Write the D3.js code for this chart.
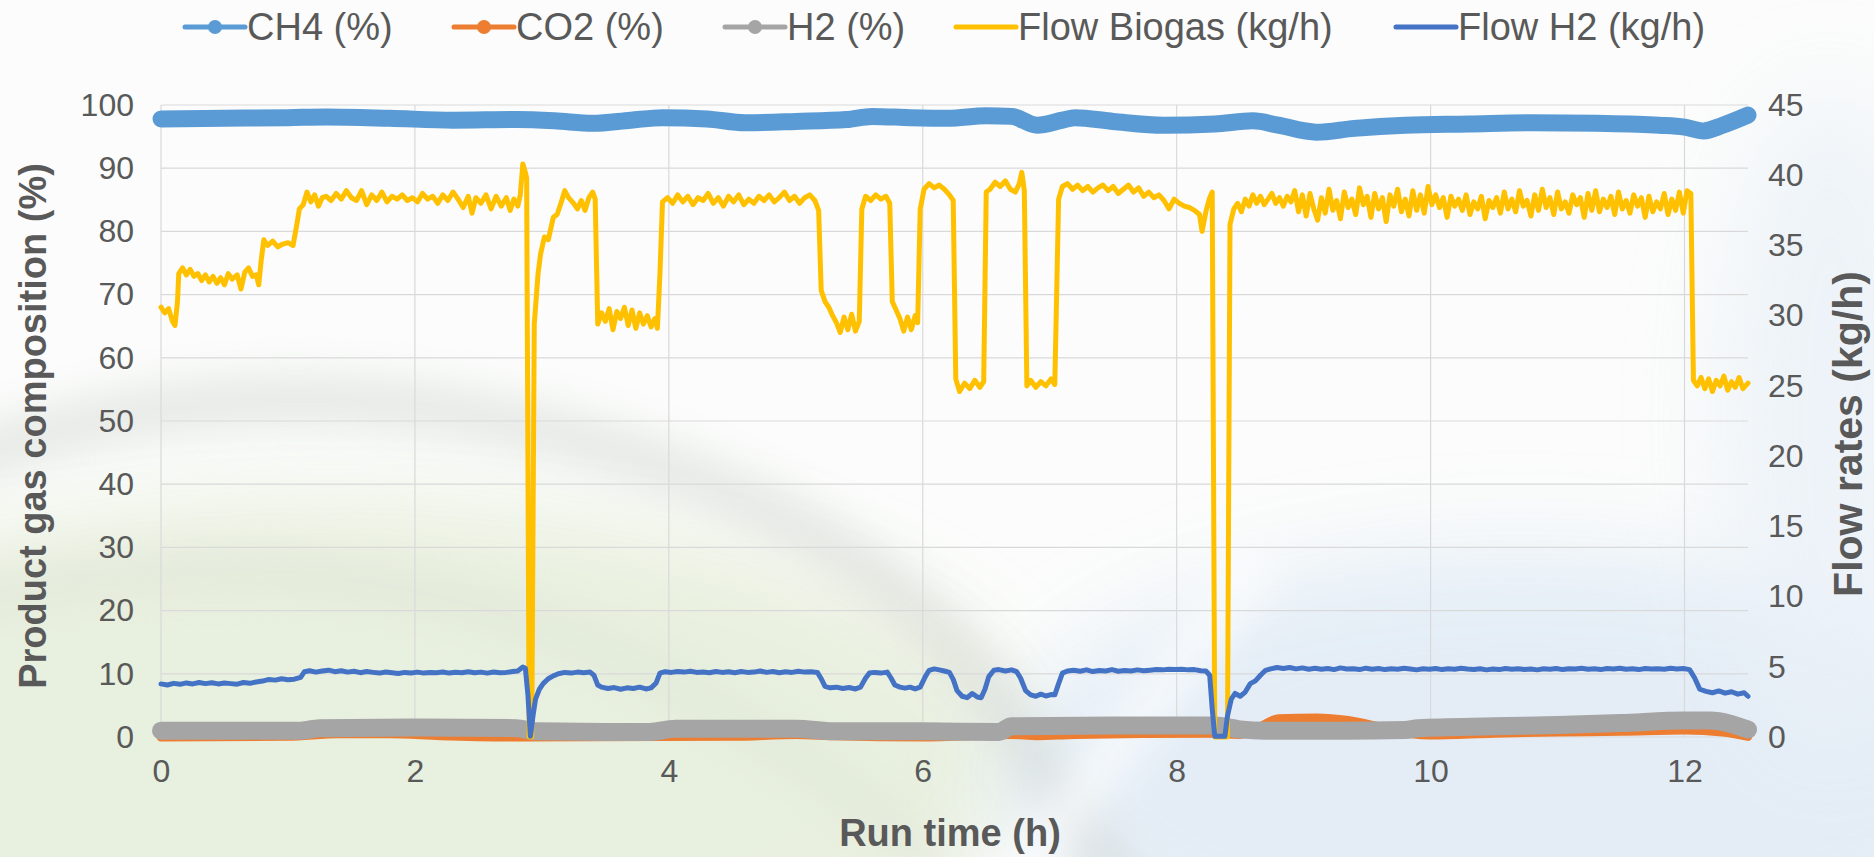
<!DOCTYPE html>
<html>
<head>
<meta charset="utf-8">
<script src="https://cdn.jsdelivr.net/npm/d3@7/dist/d3.min.js"></script>
<style>
  html, body { margin: 0; padding: 0; background: #ffffff; }
  svg { display: block; font-family: "Liberation Sans", Arial, sans-serif; }
</style>
</head>
<body>
<svg id="chart" width="1874" height="857"></svg>
<script>
// Run time axis ticks (h) and the two value-axis tick sets
const timeTicks = [0, 2, 4, 6, 8, 10, 12];
const pctTicks = [0, 10, 20, 30, 40, 50, 60, 70, 80, 90, 100];
const flowTicks = [0, 5, 10, 15, 20, 25, 30, 35, 40, 45];

// Product gas composition, [run time h, %]
const ch4 = [
  [0.0, 97.8], [0.5, 97.9], [1.0, 98.0], [1.3, 98.1], [1.8, 97.9], [2.3, 97.6],
  [2.8, 97.7], [3.1, 97.5], [3.4, 97.1], [3.7, 97.6], [3.95, 98.0], [4.3, 97.8],
  [4.6, 97.2], [5.0, 97.4], [5.4, 97.7], [5.6, 98.2], [5.9, 98.0], [6.2, 97.9],
  [6.5, 98.3], [6.7, 98.2], [6.9, 96.8], [7.1, 97.6], [7.2, 98.0], [7.5, 97.4],
  [7.9, 96.8], [8.3, 97.0], [8.6, 97.5], [8.8, 96.8], [9.1, 95.7], [9.4, 96.3],
  [9.8, 96.8], [10.3, 97.0], [10.8, 97.2], [11.3, 97.1], [11.8, 96.8], [12.0, 96.5],
  [12.15, 95.9], [12.3, 96.8], [12.5, 98.4]
];
const co2 = [
  [0.0, 0.0], [1.0, 0.1], [1.4, 0.5], [1.8, 0.5], [2.2, 0.2], [2.8, 0.0], [4.5, 0.1],
  [5.0, 0.4], [5.3, 0.2], [6.0, 0.0], [6.7, 0.4], [6.9, 0.2], [7.2, 0.4], [8.25, 0.6],
  [8.5, 0.4], [8.65, 1.5], [8.8, 2.9], [9.1, 3.0], [9.35, 2.6], [9.6, 1.6], [9.85, 0.5],
  [10.0, 0.3], [10.5, 0.6], [11.0, 0.8], [11.5, 0.9], [12.0, 1.1], [12.3, 0.8], [12.5, 0.1]
];
const h2 = [
  [0.0, 1.0], [0.5, 1.0], [1.1, 1.0], [1.25, 1.4], [2.0, 1.5], [2.8, 1.4], [2.95, 0.9],
  [3.5, 0.8], [3.85, 0.8], [4.05, 1.3], [5.0, 1.3], [5.3, 0.9], [6.0, 0.9], [6.6, 0.8],
  [6.7, 1.7], [7.5, 1.8], [8.3, 1.8], [8.5, 1.2], [8.7, 1.0], [9.3, 1.0], [9.8, 1.1],
  [9.9, 1.4], [10.5, 1.7], [11.0, 1.9], [11.5, 2.2], [12.0, 2.6], [12.2, 2.6], [12.5, 1.2]
];

// Flow rates, [run time h, kg/h]
const flowBiogas = [
  [0.00, 30.6], [0.03, 30.2], [0.06, 30.5], [0.09, 29.6], [0.11, 29.3], [0.13, 31.0],
  [0.14, 33.0], [0.17, 33.4], [0.20, 32.9], [0.23, 33.3], [0.26, 32.8], [0.29, 33.0],
  [0.32, 32.5], [0.35, 32.9], [0.38, 32.4], [0.41, 32.8], [0.44, 32.3], [0.47, 32.7],
  [0.50, 32.2], [0.53, 33.0], [0.56, 32.6], [0.60, 32.9], [0.63, 31.9], [0.66, 33.1],
  [0.69, 33.4], [0.72, 32.8], [0.75, 32.9], [0.77, 32.2], [0.79, 34.0], [0.81, 35.4],
  [0.84, 35.0], [0.88, 35.3], [0.92, 34.9], [0.96, 35.1], [1.00, 35.2], [1.04, 35.0],
  [1.07, 36.5], [1.09, 37.6], [1.12, 37.9], [1.15, 38.8], [1.18, 38.1], [1.21, 38.6],
  [1.24, 37.8], [1.27, 38.4], [1.30, 38.5], [1.34, 38.2], [1.38, 38.7], [1.42, 38.3],
  [1.46, 38.9], [1.50, 38.4], [1.54, 38.2], [1.58, 38.9], [1.62, 37.9], [1.66, 38.6],
  [1.70, 38.2], [1.74, 38.8], [1.78, 38.1], [1.82, 38.5], [1.86, 38.3], [1.90, 38.6],
  [1.94, 38.2], [1.98, 38.4], [2.02, 38.1], [2.06, 38.7], [2.10, 38.3], [2.14, 38.5],
  [2.18, 38.0], [2.22, 38.6], [2.26, 38.2], [2.30, 38.8], [2.34, 38.3], [2.38, 37.7],
  [2.42, 38.5], [2.45, 37.3], [2.48, 38.4], [2.52, 38.0], [2.56, 38.6], [2.60, 37.6],
  [2.64, 38.5], [2.68, 37.8], [2.72, 38.4], [2.75, 37.5], [2.78, 38.3], [2.81, 37.8],
  [2.83, 38.6], [2.85, 40.8], [2.87, 40.2], [2.88, 39.8], [2.90, 0.0], [2.92, 0.0],
  [2.94, 29.4], [2.97, 33.0], [2.99, 34.4], [3.02, 35.6], [3.05, 35.4], [3.09, 37.0],
  [3.12, 37.2], [3.15, 38.0], [3.18, 38.9], [3.21, 38.4], [3.25, 38.0], [3.28, 37.6],
  [3.31, 38.2], [3.34, 37.5], [3.37, 38.4], [3.40, 38.8], [3.42, 38.3], [3.44, 29.4],
  [3.47, 30.2], [3.50, 29.6], [3.53, 30.5], [3.56, 29.0], [3.59, 30.3], [3.62, 29.8],
  [3.65, 30.6], [3.68, 29.3], [3.71, 30.4], [3.74, 29.1], [3.77, 30.2], [3.80, 29.4],
  [3.83, 30.0], [3.86, 29.2], [3.89, 29.8], [3.91, 29.1], [3.93, 33.0], [3.95, 38.1],
  [3.99, 38.4], [4.03, 38.0], [4.07, 38.6], [4.11, 38.1], [4.15, 38.5], [4.19, 37.9],
  [4.23, 38.4], [4.27, 38.2], [4.31, 38.7], [4.35, 38.0], [4.39, 38.4], [4.43, 37.8],
  [4.47, 38.5], [4.51, 38.1], [4.55, 38.6], [4.59, 37.9], [4.63, 38.3], [4.67, 38.0],
  [4.71, 38.5], [4.75, 38.2], [4.79, 38.6], [4.83, 38.1], [4.87, 38.4], [4.91, 38.8],
  [4.95, 38.2], [4.99, 38.5], [5.03, 38.0], [5.07, 38.4], [5.11, 38.6], [5.15, 38.2],
  [5.18, 37.5], [5.20, 31.8], [5.23, 31.0], [5.26, 30.6], [5.29, 30.0], [5.32, 29.5],
  [5.35, 28.8], [5.38, 29.9], [5.41, 29.0], [5.44, 30.1], [5.47, 28.9], [5.50, 29.6],
  [5.52, 37.6], [5.55, 38.5], [5.59, 38.2], [5.63, 38.6], [5.67, 38.3], [5.71, 38.5],
  [5.74, 38.0], [5.76, 31.0], [5.79, 30.4], [5.82, 29.8], [5.85, 28.9], [5.88, 29.9],
  [5.91, 29.0], [5.94, 30.0], [5.96, 29.5], [5.98, 37.6], [6.01, 39.0], [6.05, 39.4],
  [6.09, 39.1], [6.13, 39.3], [6.17, 39.0], [6.21, 38.6], [6.24, 38.2], [6.26, 25.5],
  [6.29, 24.6], [6.33, 25.2], [6.37, 24.8], [6.41, 25.4], [6.45, 24.9], [6.48, 25.3],
  [6.50, 38.8], [6.53, 39.0], [6.57, 39.5], [6.61, 39.2], [6.65, 39.6], [6.69, 39.0],
  [6.73, 38.8], [6.76, 39.4], [6.78, 40.2], [6.80, 38.9], [6.82, 25.0], [6.85, 25.4],
  [6.89, 24.9], [6.93, 25.3], [6.97, 25.0], [7.01, 25.5], [7.04, 25.1], [7.07, 38.3],
  [7.10, 39.2], [7.14, 39.4], [7.18, 39.0], [7.22, 39.3], [7.26, 38.9], [7.30, 39.2],
  [7.34, 38.8], [7.38, 39.1], [7.42, 39.3], [7.46, 38.9], [7.50, 39.2], [7.54, 38.7],
  [7.58, 39.0], [7.62, 39.3], [7.66, 38.8], [7.70, 39.1], [7.74, 38.5], [7.78, 38.8],
  [7.82, 38.4], [7.86, 38.6], [7.90, 38.2], [7.94, 37.6], [7.98, 38.3], [8.02, 38.0],
  [8.06, 37.8], [8.10, 37.7], [8.14, 37.5], [8.18, 37.2], [8.20, 36.0], [8.23, 37.4],
  [8.26, 38.4], [8.28, 38.8], [8.30, 0.0], [8.40, 0.0], [8.42, 36.5], [8.45, 37.6],
  [8.48, 38.0], [8.51, 37.4], [8.54, 38.3], [8.57, 37.8], [8.60, 38.6], [8.63, 38.0],
  [8.66, 38.5], [8.69, 37.9], [8.72, 38.3], [8.75, 38.7], [8.78, 38.0], [8.81, 38.4],
  [8.84, 37.8], [8.87, 38.5], [8.90, 38.1], [8.93, 38.9], [8.96, 37.4], [8.99, 38.6],
  [9.02, 37.1], [9.05, 38.7], [9.08, 37.6], [9.11, 36.8], [9.14, 38.4], [9.17, 37.3],
  [9.20, 39.0], [9.23, 37.5], [9.26, 38.2], [9.29, 36.9], [9.32, 38.8], [9.35, 37.7],
  [9.38, 38.3], [9.41, 37.2], [9.44, 39.1], [9.47, 37.9], [9.50, 38.5], [9.53, 37.0],
  [9.56, 38.7], [9.59, 37.6], [9.62, 38.4], [9.65, 36.7], [9.68, 38.6], [9.71, 37.8],
  [9.74, 39.0], [9.77, 37.4], [9.80, 38.3], [9.83, 37.1], [9.86, 38.9], [9.89, 37.5],
  [9.92, 38.6], [9.95, 37.3], [9.98, 39.2], [10.01, 37.9], [10.04, 38.6], [10.07, 37.7],
  [10.10, 38.4], [10.13, 37.0], [10.16, 38.5], [10.19, 37.8], [10.22, 38.3], [10.25, 37.5],
  [10.28, 38.6], [10.31, 37.2], [10.34, 38.1], [10.37, 37.6], [10.40, 38.5], [10.43, 36.9],
  [10.46, 38.2], [10.49, 37.7], [10.52, 38.4], [10.55, 37.3], [10.58, 38.8], [10.61, 37.6],
  [10.64, 38.3], [10.67, 37.4], [10.70, 38.9], [10.73, 37.8], [10.76, 38.2], [10.79, 37.1],
  [10.82, 38.6], [10.85, 37.5], [10.88, 39.0], [10.91, 37.7], [10.94, 38.4], [10.97, 37.2],
  [11.00, 38.8], [11.03, 37.6], [11.06, 38.1], [11.09, 37.3], [11.12, 38.6], [11.15, 37.9],
  [11.18, 38.4], [11.21, 37.0], [11.24, 38.7], [11.27, 37.5], [11.30, 38.9], [11.33, 37.4],
  [11.36, 38.3], [11.39, 37.7], [11.42, 38.5], [11.45, 37.2], [11.48, 38.8], [11.51, 37.6],
  [11.54, 38.2], [11.57, 37.3], [11.60, 38.6], [11.63, 37.8], [11.66, 38.4], [11.69, 37.0],
  [11.72, 38.5], [11.75, 37.4], [11.78, 38.1], [11.81, 37.6], [11.84, 38.7], [11.87, 37.2],
  [11.90, 38.3], [11.93, 37.5], [11.96, 38.8], [11.99, 37.3], [12.02, 38.9], [12.05, 38.7],
  [12.07, 25.4], [12.10, 25.0], [12.13, 25.6], [12.16, 24.8], [12.19, 25.5], [12.22, 24.6],
  [12.25, 25.4], [12.28, 25.0], [12.31, 25.7], [12.34, 24.7], [12.37, 25.3], [12.40, 24.9],
  [12.43, 25.6], [12.46, 24.8], [12.50, 25.2]
];
const flowH2 = [
  [0.00, 3.78], [0.05, 3.70], [0.10, 3.82], [0.15, 3.75], [0.20, 3.85], [0.25, 3.78],
  [0.30, 3.88], [0.35, 3.80], [0.40, 3.86], [0.45, 3.78], [0.50, 3.84], [0.55, 3.80],
  [0.60, 3.76], [0.65, 3.88], [0.70, 3.82], [0.75, 3.92], [0.80, 3.98], [0.85, 4.10],
  [0.90, 4.05], [0.95, 4.15], [1.00, 4.08], [1.05, 4.12], [1.10, 4.25], [1.13, 4.65],
  [1.17, 4.72], [1.22, 4.62], [1.27, 4.70], [1.32, 4.76], [1.37, 4.65], [1.42, 4.72],
  [1.47, 4.62], [1.52, 4.68], [1.57, 4.58], [1.62, 4.66], [1.67, 4.60], [1.72, 4.55],
  [1.77, 4.63], [1.82, 4.58], [1.87, 4.52], [1.92, 4.60], [1.97, 4.56], [2.02, 4.62],
  [2.07, 4.55], [2.12, 4.60], [2.17, 4.57], [2.22, 4.63], [2.27, 4.55], [2.32, 4.61],
  [2.37, 4.58], [2.42, 4.64], [2.47, 4.57], [2.52, 4.62], [2.57, 4.55], [2.62, 4.63],
  [2.67, 4.58], [2.72, 4.60], [2.77, 4.66], [2.81, 4.70], [2.85, 4.98], [2.87, 4.90],
  [2.89, 3.00], [2.91, 0.05], [2.93, 1.50], [2.95, 2.70], [2.98, 3.40], [3.01, 3.80],
  [3.05, 4.15], [3.09, 4.35], [3.13, 4.50], [3.18, 4.60], [3.23, 4.55], [3.28, 4.62],
  [3.33, 4.58], [3.38, 4.62], [3.41, 4.40], [3.44, 3.70], [3.47, 3.55], [3.52, 3.45],
  [3.57, 3.52], [3.62, 3.40], [3.67, 3.50], [3.72, 3.45], [3.77, 3.55], [3.82, 3.42],
  [3.86, 3.50], [3.90, 3.85], [3.93, 4.55], [3.97, 4.65], [4.02, 4.60], [4.07, 4.66],
  [4.12, 4.62], [4.17, 4.68], [4.22, 4.60], [4.27, 4.63], [4.32, 4.58], [4.37, 4.66],
  [4.42, 4.60], [4.47, 4.64], [4.52, 4.58], [4.57, 4.66], [4.62, 4.60], [4.67, 4.62],
  [4.72, 4.70], [4.77, 4.60], [4.82, 4.66], [4.87, 4.58], [4.92, 4.64], [4.97, 4.60],
  [5.02, 4.68], [5.07, 4.62], [5.12, 4.64], [5.17, 4.60], [5.20, 4.15], [5.23, 3.60],
  [5.27, 3.50], [5.32, 3.55], [5.37, 3.45], [5.42, 3.52], [5.47, 3.42], [5.51, 3.55],
  [5.55, 4.20], [5.58, 4.55], [5.62, 4.60], [5.67, 4.55], [5.72, 4.62], [5.75, 4.20],
  [5.78, 3.70], [5.82, 3.55], [5.86, 3.48], [5.90, 3.55], [5.94, 3.42], [5.98, 3.55],
  [6.02, 4.30], [6.05, 4.75], [6.09, 4.85], [6.13, 4.78], [6.17, 4.70], [6.21, 4.60],
  [6.24, 4.10], [6.27, 3.30], [6.31, 2.90], [6.35, 2.80], [6.39, 3.10], [6.43, 2.85],
  [6.46, 2.80], [6.49, 3.40], [6.52, 4.30], [6.56, 4.75], [6.60, 4.80], [6.65, 4.70],
  [6.70, 4.78], [6.74, 4.65], [6.77, 4.20], [6.81, 3.30], [6.85, 3.00], [6.89, 2.90],
  [6.93, 3.05], [6.97, 2.92], [7.01, 3.02], [7.04, 3.00], [7.07, 3.80], [7.10, 4.55],
  [7.14, 4.70], [7.19, 4.75], [7.24, 4.68], [7.29, 4.78], [7.34, 4.66], [7.39, 4.74],
  [7.44, 4.70], [7.49, 4.80], [7.54, 4.68], [7.59, 4.74], [7.64, 4.70], [7.69, 4.78],
  [7.74, 4.72], [7.79, 4.76], [7.84, 4.80], [7.89, 4.78], [7.94, 4.82], [7.99, 4.80],
  [8.04, 4.82], [8.09, 4.78], [8.14, 4.80], [8.19, 4.72], [8.23, 4.70], [8.26, 4.40],
  [8.28, 2.00], [8.30, 0.05], [8.38, 0.05], [8.40, 1.50], [8.43, 2.70], [8.46, 3.10],
  [8.50, 2.90], [8.54, 3.20], [8.58, 3.80], [8.62, 4.00], [8.66, 4.40], [8.70, 4.75],
  [8.74, 4.85], [8.79, 4.95], [8.84, 4.88], [8.89, 4.95], [8.94, 4.85], [8.99, 4.92],
  [9.04, 4.82], [9.09, 4.90], [9.14, 4.82], [9.19, 4.88], [9.24, 4.80], [9.29, 4.92],
  [9.34, 4.84], [9.39, 4.86], [9.44, 4.80], [9.49, 4.90], [9.54, 4.83], [9.59, 4.88],
  [9.64, 4.80], [9.69, 4.86], [9.74, 4.82], [9.79, 4.90], [9.84, 4.84], [9.89, 4.78],
  [9.94, 4.86], [9.99, 4.82], [10.04, 4.88], [10.09, 4.80], [10.14, 4.86], [10.19, 4.82],
  [10.24, 4.90], [10.29, 4.84], [10.34, 4.80], [10.39, 4.86], [10.44, 4.78], [10.49, 4.84],
  [10.54, 4.80], [10.59, 4.88], [10.64, 4.82], [10.69, 4.86], [10.74, 4.80], [10.79, 4.84],
  [10.84, 4.78], [10.89, 4.86], [10.94, 4.82], [10.99, 4.88], [11.04, 4.80], [11.09, 4.86],
  [11.14, 4.84], [11.19, 4.90], [11.24, 4.82], [11.29, 4.86], [11.34, 4.80], [11.39, 4.88],
  [11.44, 4.84], [11.49, 4.90], [11.54, 4.82], [11.59, 4.86], [11.64, 4.80], [11.69, 4.88],
  [11.74, 4.84], [11.79, 4.86], [11.84, 4.82], [11.89, 4.90], [11.94, 4.84], [11.99, 4.88],
  [12.04, 4.80], [12.08, 4.20], [12.12, 3.40], [12.17, 3.25], [12.22, 3.15], [12.27, 3.28],
  [12.32, 3.12], [12.37, 3.22], [12.42, 3.05], [12.47, 3.15], [12.50, 2.90]
];

const legendItems = [
  { label: "CH4 (%)", color: "#5B9BD5", marker: true },
  { label: "CO2 (%)", color: "#ED7D31", marker: true },
  { label: "H2 (%)", color: "#A5A5A5", marker: true },
  { label: "Flow Biogas (kg/h)", color: "#FFC000", marker: false },
  { label: "Flow H2 (kg/h)", color: "#4472C4", marker: false }
];

const W = 1874, H = 857;
const plot = { left: 161, right: 1748, top: 105, bottom: 737 };
const textColor = "#595959";

const svg = d3.select("#chart");
const defs = svg.append("defs");

// ---- soft slide backdrop ----
defs.append("filter").attr("id", "blurBig").attr("x", "-50%").attr("y", "-50%")
  .attr("width", "200%").attr("height", "200%")
  .append("feGaussianBlur").attr("stdDeviation", 45);
defs.append("filter").attr("id", "blurMid").attr("x", "-50%").attr("y", "-50%")
  .attr("width", "200%").attr("height", "200%")
  .append("feGaussianBlur").attr("stdDeviation", 20);

const bg = svg.append("g");
bg.append("rect").attr("width", W).attr("height", H).attr("fill", "#fbfcfb");
bg.append("ellipse").attr("cx", 330).attr("cy", 760).attr("rx", 700).attr("ry", 260)
  .attr("fill", "#e7efdc").attr("opacity", 0.9).attr("filter", "url(#blurBig)");
bg.append("ellipse").attr("cx", 1520).attr("cy", 780).attr("rx", 520).attr("ry", 230)
  .attr("fill", "#e2ecf6").attr("opacity", 0.9).attr("filter", "url(#blurBig)");
bg.append("ellipse").attr("cx", 1830).attr("cy", 420).attr("rx", 110).attr("ry", 330)
  .attr("fill", "#eaf1f8").attr("opacity", 0.8).attr("filter", "url(#blurBig)");
bg.append("path")
  .attr("d", "M -60 470 C 160 380 420 370 700 480 S 1010 740 1130 900")
  .attr("fill", "none").attr("stroke", "#cdd1cc").attr("stroke-width", 48)
  .attr("opacity", 0.45).attr("filter", "url(#blurMid)");
bg.append("path")
  .attr("d", "M -60 610 C 200 530 480 570 720 710 S 900 860 950 900")
  .attr("fill", "none").attr("stroke", "#dde3d6").attr("stroke-width", 44)
  .attr("opacity", 0.45).attr("filter", "url(#blurMid)");
bg.append("path")
  .attr("d", "M 1000 900 L 1260 560")
  .attr("fill", "none").attr("stroke", "#ffffff").attr("stroke-width", 40)
  .attr("opacity", 0.7).attr("filter", "url(#blurMid)");

// ---- scales ----
const x = d3.scaleLinear().domain([0, 12.5]).range([plot.left, plot.right]);
const yL = d3.scaleLinear().domain([0, 100]).range([plot.bottom, plot.top]);
const yR = d3.scaleLinear().domain([0, 45]).range([plot.bottom, plot.top]);

// ---- gridlines ----
const grid = svg.append("g");
grid.selectAll("line.h").data(pctTicks).join("line")
  .attr("x1", plot.left).attr("x2", plot.right)
  .attr("y1", d => yL(d)).attr("y2", d => yL(d))
  .attr("stroke", "#d9d9d9").attr("stroke-width", 1.2);
grid.selectAll("line.v").data(timeTicks).join("line")
  .attr("x1", d => x(d)).attr("x2", d => x(d))
  .attr("y1", plot.top).attr("y2", plot.bottom)
  .attr("stroke", "#d9d9d9").attr("stroke-width", 1.2);

// ---- axes ----
const axisFont = 32;
const gL = svg.append("g").attr("transform", `translate(${plot.left},0)`)
  .call(d3.axisLeft(yL).tickValues(pctTicks).tickSize(0).tickPadding(27));
const gR = svg.append("g").attr("transform", `translate(${plot.right},0)`)
  .call(d3.axisRight(yR).tickValues(flowTicks).tickSize(0).tickPadding(20));
const gB = svg.append("g").attr("transform", `translate(0,${plot.bottom})`)
  .call(d3.axisBottom(x).tickValues(timeTicks).tickSize(0).tickPadding(22));
[gL, gR, gB].forEach(g => {
  g.select(".domain").remove();
  g.selectAll("text").attr("fill", textColor)
    .style("font-size", axisFont + "px")
    .style("font-family", "'Liberation Sans', Arial, sans-serif");
});

// ---- series ----
const smoothL = d3.line().curve(d3.curveMonotoneX).x(d => x(d[0])).y(d => yL(d[1]));
const lineR = d3.line().x(d => x(d[0])).y(d => yR(d[1]));
const series = svg.append("g").attr("fill", "none")
  .attr("stroke-linejoin", "round").attr("stroke-linecap", "round");

series.append("path").datum(ch4).attr("d", smoothL)
  .attr("stroke", "#5B9BD5").attr("stroke-width", 17);
series.append("path").datum(co2).attr("d", smoothL)
  .attr("stroke", "#ED7D31").attr("stroke-width", 9);
series.append("path").datum(h2).attr("d", smoothL)
  .attr("stroke", "#A5A5A5").attr("stroke-width", 18);
series.append("path").datum(flowBiogas).attr("d", lineR)
  .attr("stroke", "#FFC000").attr("stroke-width", 5);
series.append("path").datum(flowH2).attr("d", lineR)
  .attr("stroke", "#4472C4").attr("stroke-width", 5);

// ---- axis titles ----
svg.append("text")
  .attr("transform", `translate(33,${(plot.top + plot.bottom) / 2 + 5}) rotate(-90)`)
  .attr("text-anchor", "middle").attr("dominant-baseline", "central")
  .attr("fill", textColor).style("font-size", "38px").style("font-weight", "bold")
  .text("Product gas composition (%)");
svg.append("text")
  .attr("transform", `translate(1848,434) rotate(-90)`)
  .attr("text-anchor", "middle").attr("dominant-baseline", "central")
  .attr("fill", textColor).style("font-size", "41px").style("font-weight", "bold")
  .text("Flow rates (kg/h)");
svg.append("text")
  .attr("x", 950).attr("y", 833)
  .attr("text-anchor", "middle").attr("dominant-baseline", "central")
  .attr("fill", textColor).style("font-size", "38px").style("font-weight", "bold")
  .text("Run time (h)");

// ---- legend ----
const legendX = [185, 454, 725, 956, 1396];
const legend = svg.append("g");
legendItems.forEach((item, i) => {
  const g = legend.append("g").attr("transform", `translate(${legendX[i]},27)`);
  g.append("line").attr("x1", 0).attr("x2", 60).attr("y1", 0).attr("y2", 0)
    .attr("stroke", item.color).attr("stroke-width", 5).attr("stroke-linecap", "round");
  if (item.marker) {
    g.append("circle").attr("cx", 30).attr("cy", 0).attr("r", 7).attr("fill", item.color);
  }
  g.append("text").attr("x", 62).attr("y", 0).attr("dominant-baseline", "central")
    .attr("fill", textColor).style("font-size", "38px").text(item.label);
});
</script>
</body>
</html>
